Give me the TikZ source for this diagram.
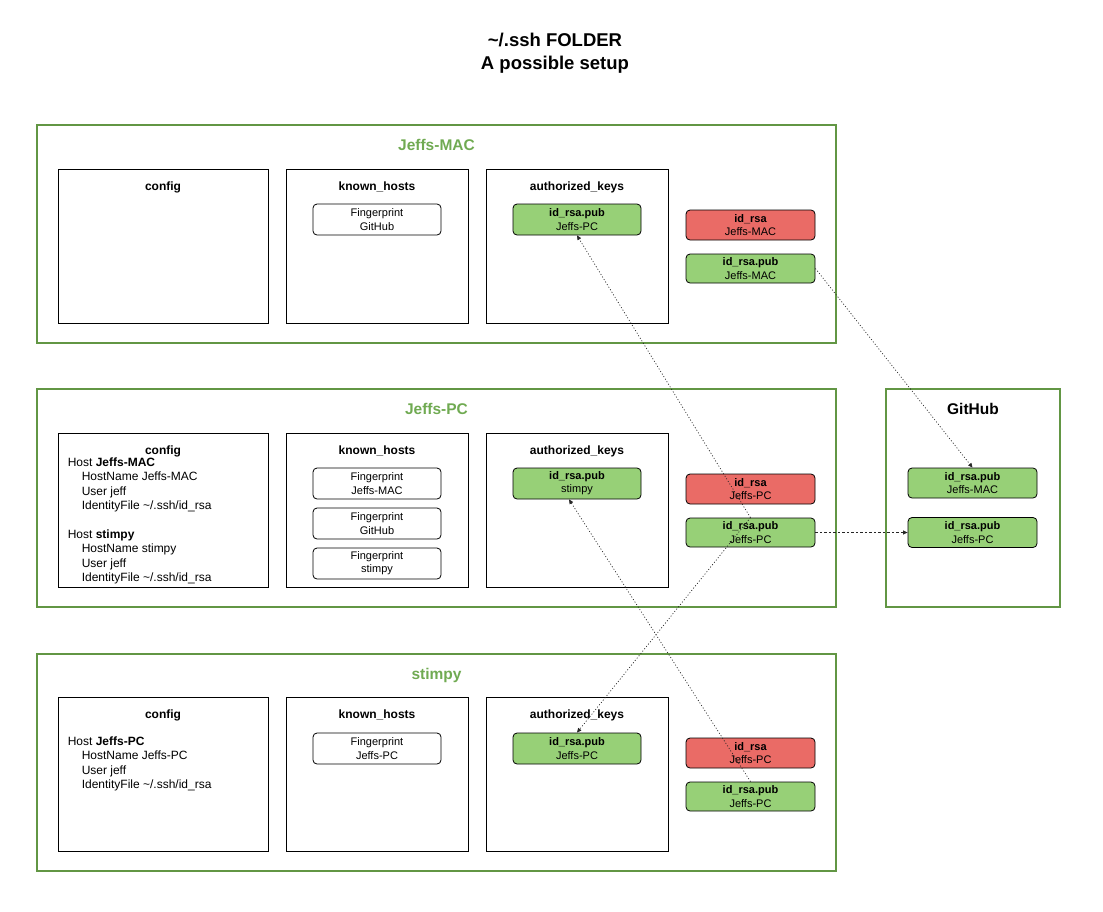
\documentclass[tikz,border=0pt]{standalone}
\usepackage{fontspec}
\setmainfont{Liberation Sans}
\usetikzlibrary{positioning,arrows.meta}

\definecolor{hostgreen}{RGB}{98,150,68}
\definecolor{labelgreen}{RGB}{112,170,82}
\definecolor{keygreen}{RGB}{151,208,119}
\definecolor{keyred}{RGB}{234,107,102}

\begin{document}
\begin{tikzpicture}[
  x=1pt, y=-1pt,
  hostframe/.style={rectangle, draw=hostgreen, line width=2pt, minimum width=799pt, minimum height=218pt},
  hostlabel/.style={anchor=base, text=labelgreen, font=\fontsize{15.5}{18}\selectfont\bfseries},
  filebox/.style={rectangle, draw, line width=0.9pt, minimum width=182pt, minimum height=154pt},
  filetitle/.style={inner sep=0pt, font=\fontsize{12}{14}\selectfont\bfseries},
  cfgtext/.style={inner sep=0pt, anchor=north west, align=left, font=\fontsize{12}{14.4}\selectfont},
  entry/.style={rectangle, draw, rounded corners=4pt, line width=0.8pt, minimum width=128pt, minimum height=31pt, inner sep=0pt, align=center, font=\fontsize{11}{13.2}\selectfont},
  pubkey/.style={entry, fill=keygreen},
  privkey/.style={entry, fill=keyred, minimum width=129pt, minimum height=30pt},
  keylink/.style={draw=black!85, line width=0.7pt, dash pattern=on 1pt off 2pt, -{Triangle[length=4.5pt,width=4pt]}}
]
\useasboundingbox (0,0) rectangle (1103,911);

% Title
\node[align=center, font=\fontsize{18.5}{22.5}\selectfont\bfseries] (title) at (555,53) {\textasciitilde/.ssh FOLDER\\A possible setup};

% Jeffs-MAC
\node[hostframe] (macframe) at (436.5,234) {};
\node[hostlabel] (maclabel) at (436.5,150.5) {Jeffs-MAC};
\node[filebox, minimum width=210pt] (maccfg) at (163,246) {};
\node[filetitle, below=13pt of maccfg.north] (maccfgtitle) {config};
\node[filebox] (mackh) at (377,246) {};
\node[filetitle, below=13pt of mackh.north] (mackhtitle) {known\_hosts};
\node[entry] (macfpgh) at (377,219.5) {Fingerprint\\GitHub};
\node[filebox] (macak) at (577,246) {};
\node[filetitle, below=13pt of macak.north] (macaktitle) {authorized\_keys};
\node[pubkey] (macakpc) at (577,219.5) {\textbf{id\_rsa.pub}\\Jeffs-PC};
\node[privkey] (macpriv) at (750.5,225) {\textbf{id\_rsa}\\Jeffs-MAC};
\node[pubkey, minimum width=129pt, minimum height=29pt] (macpub) at (750.5,268.5) {\textbf{id\_rsa.pub}\\Jeffs-MAC};

% Jeffs-PC
\node[hostframe] (pcframe) at (436.5,498) {};
\node[hostlabel] (pclabel) at (436.5,414.5) {Jeffs-PC};
\node[filebox, minimum width=210pt] (pccfg) at (163,510) {};
\node[filetitle, below=13pt of pccfg.north] (pccfgtitle) {config};
\node[cfgtext] (pccfgtext) at ([xshift=10pt,yshift=-25pt]pccfg.north west) {Host \textbf{Jeffs-MAC}\\
  \hspace*{14pt}HostName Jeffs-MAC\\
  \hspace*{14pt}User jeff\\
  \hspace*{14pt}IdentityFile \textasciitilde/.ssh/id\_rsa\\[14.4pt]
  Host \textbf{stimpy}\\
  \hspace*{14pt}HostName stimpy\\
  \hspace*{14pt}User jeff\\
  \hspace*{14pt}IdentityFile \textasciitilde/.ssh/id\_rsa};
\node[filebox] (pckh) at (377,510) {};
\node[filetitle, below=13pt of pckh.north] (pckhtitle) {known\_hosts};
\node[entry] (pcfpmac) at (377,483.5) {Fingerprint\\Jeffs-MAC};
\node[entry] (pcfpgh) at (377,523.5) {Fingerprint\\GitHub};
\node[entry] (pcfpst) at (377,563.5) {Fingerprint\\stimpy};
\node[filebox] (pcak) at (577,510) {};
\node[filetitle, below=13pt of pcak.north] (pcaktitle) {authorized\_keys};
\node[pubkey] (pcakst) at (577,483.5) {\textbf{id\_rsa.pub}\\stimpy};
\node[privkey] (pcpriv) at (750.5,489) {\textbf{id\_rsa}\\Jeffs-PC};
\node[pubkey, minimum width=129pt, minimum height=29pt] (pcpub) at (750.5,532.5) {\textbf{id\_rsa.pub}\\Jeffs-PC};

% stimpy
\node[hostframe, minimum height=217pt] (stframe) at (436.5,762.5) {};
\node[hostlabel] (stlabel) at (436.5,679) {stimpy};
\node[filebox, minimum width=210pt] (stcfg) at (163,774) {};
\node[filetitle, below=13pt of stcfg.north] (stcfgtitle) {config};
\node[cfgtext] (stcfgtext) at ([xshift=10pt,yshift=-40pt]stcfg.north west) {Host \textbf{Jeffs-PC}\\
  \hspace*{14pt}HostName Jeffs-PC\\
  \hspace*{14pt}User jeff\\
  \hspace*{14pt}IdentityFile \textasciitilde/.ssh/id\_rsa};
\node[filebox] (stkh) at (377,774) {};
\node[filetitle, below=13pt of stkh.north] (stkhtitle) {known\_hosts};
\node[entry] (stfppc) at (377,748.5) {Fingerprint\\Jeffs-PC};
\node[filebox] (stak) at (577,774) {};
\node[filetitle, below=13pt of stak.north] (staktitle) {authorized\_keys};
\node[pubkey] (stakpc) at (577,748.5) {\textbf{id\_rsa.pub}\\Jeffs-PC};
\node[privkey] (stpriv) at (750.5,753) {\textbf{id\_rsa}\\Jeffs-PC};
\node[pubkey, minimum width=129pt, minimum height=29pt] (stpub) at (750.5,796.5) {\textbf{id\_rsa.pub}\\Jeffs-PC};

% GitHub
\node[hostframe, minimum width=174pt] (ghframe) at (973,498) {};
\node[hostlabel, text=black] (ghlabel) at (973,414) {GitHub};
\node[pubkey, minimum width=129pt, minimum height=30pt] (ghmac) at (972.5,483) {\textbf{id\_rsa.pub}\\Jeffs-MAC};
\node[pubkey, minimum width=129pt, minimum height=30pt] (ghpc) at (972.5,532.5) {\textbf{id\_rsa.pub}\\Jeffs-PC};

% Key copies
\draw[keylink] (pcpub.north) -- (macakpc.south);
\draw[keylink] (pcpub.north) -- (stakpc.north);
\draw[keylink] (stpub.north) -- ([xshift=-8pt]pcakst.south);
\draw[keylink] (macpub.east) -- (ghmac.north);
\draw[keylink, dash pattern=on 2.5pt off 2pt] (pcpub.east) -- (ghpc.west);

\end{tikzpicture}
\end{document}
